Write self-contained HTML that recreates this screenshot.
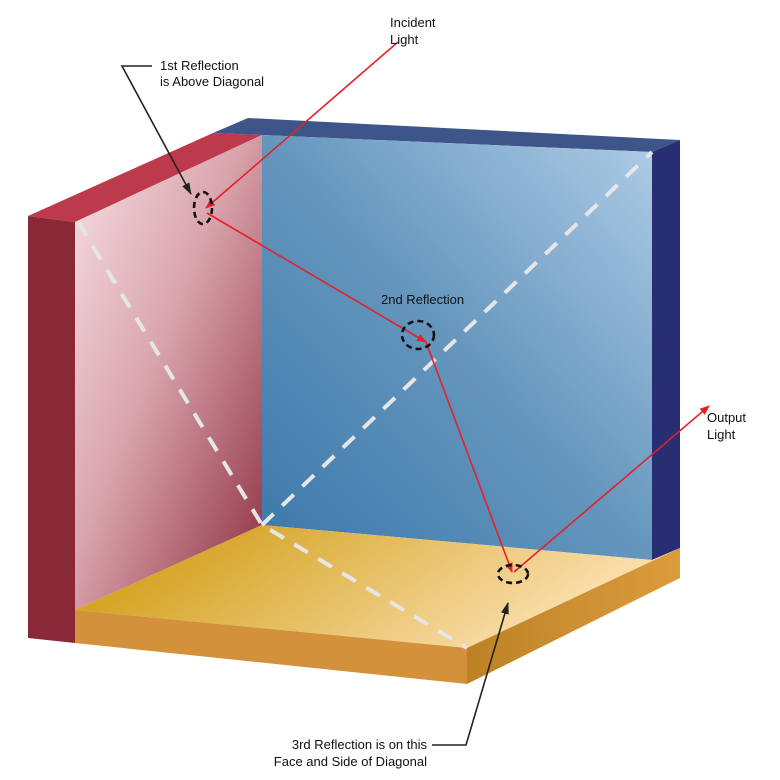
<!DOCTYPE html>
<html><head><meta charset="utf-8"><style>html,body{margin:0;padding:0;background:#fff}svg{display:block}text{font-family:"Liberation Sans",sans-serif;font-size:13px;fill:#111}</style></head>
<body>
<svg width="780" height="780" viewBox="0 0 780 780" xmlns="http://www.w3.org/2000/svg">
<defs>
<linearGradient id="gr" x1="0" y1="0" x2="1" y2="1"><stop offset="0" stop-color="#f7e0e4"/><stop offset="0.45" stop-color="#d9a4ad"/><stop offset="1" stop-color="#8c2d3e"/></linearGradient>
<linearGradient id="gb" x1="1" y1="0" x2="0" y2="1"><stop offset="0" stop-color="#aecce6"/><stop offset="0.5" stop-color="#6596bd"/><stop offset="1" stop-color="#3b78ab"/></linearGradient>
<linearGradient id="gf" x1="0" y1="0" x2="1" y2="0.3"><stop offset="0.2" stop-color="#d4a424"/><stop offset="1" stop-color="#fde2b6"/></linearGradient>
<linearGradient id="gs" x1="0" y1="0" x2="1" y2="0"><stop offset="0" stop-color="#bd8226"/><stop offset="1" stop-color="#dc9c3c"/></linearGradient>
<marker id="ar" markerWidth="10" markerHeight="8" refX="9" refY="4" orient="auto" markerUnits="userSpaceOnUse"><path d="M0,0 L10,4 L0,8 z" fill="#e4202a"/></marker>
<marker id="ak" markerWidth="12" markerHeight="8" refX="11" refY="4" orient="auto" markerUnits="userSpaceOnUse"><path d="M0,0 L12,4 L0,8 z" fill="#222"/></marker>
</defs>
<!-- left slab -->
<polygon points="28,216 75,222 75,643 28,638" fill="#892937"/>
<polygon points="28,216 213,133 262,135 75,222" fill="#bc3a4c"/>
<!-- blue top -->
<polygon points="213,133 248,118 680,140 652,152 262,135" fill="#3d5589"/>
<polygon points="652,152 680,140 680,548 652,560" fill="#282e72"/>
<polygon points="262,135 652,152 652,560 262,525" fill="url(#gb)"/>
<polygon points="75,222 262,135 262,525 75,610" fill="url(#gr)"/>
<!-- floor -->
<polygon points="75,610 262,525 652,560 680,548 467,648" fill="url(#gf)"/>
<polygon points="75,610 467,648 467,684 75,643" fill="#d3913c"/>
<polygon points="467,648 680,548 680,578 467,684" fill="url(#gs)"/>
<!-- dashed diagonals -->
<g stroke="#e6e6e6" stroke-width="4" stroke-dasharray="16,12" fill="none">
<polyline points="78,222 262,525 467,648"/>
<line x1="262" y1="525" x2="652" y2="152"/>
</g>
<!-- light path -->
<g stroke="#e4202a" stroke-width="1.6" fill="none">
<line x1="398" y1="42" x2="206" y2="208" marker-end="url(#ar)"/>
<line x1="207" y1="213" x2="426" y2="342" marker-end="url(#ar)"/>
<line x1="426" y1="342" x2="512" y2="572" marker-end="url(#ar)"/>
<line x1="514" y1="572" x2="709" y2="406" marker-end="url(#ar)"/>
</g>
<g stroke="#111" stroke-width="2.6" stroke-dasharray="6,4" fill="none">
<ellipse cx="203" cy="208" rx="9" ry="16"/>
<ellipse cx="418" cy="335" rx="16" ry="14"/>
<ellipse cx="513" cy="574" rx="15" ry="9"/>
</g>
<!-- callouts -->
<g stroke="#222" stroke-width="1.6" fill="none">
<polyline points="152,66 122,66 191,194" marker-end="url(#ak)"/>
<polyline points="432,745 466,745 508,603" marker-end="url(#ak)"/>
</g>
<text x="160" y="70">1st Reflection</text>
<text x="160" y="86">is Above Diagonal</text>
<text x="390" y="27">Incident</text>
<text x="390" y="44">Light</text>
<text x="381" y="304">2nd Reflection</text>
<text x="707" y="422">Output</text>
<text x="707" y="439">Light</text>
<text x="427" y="749" text-anchor="end">3rd Reflection is on this</text>
<text x="427" y="766" text-anchor="end">Face and Side of Diagonal</text>
</svg>
</body></html>
